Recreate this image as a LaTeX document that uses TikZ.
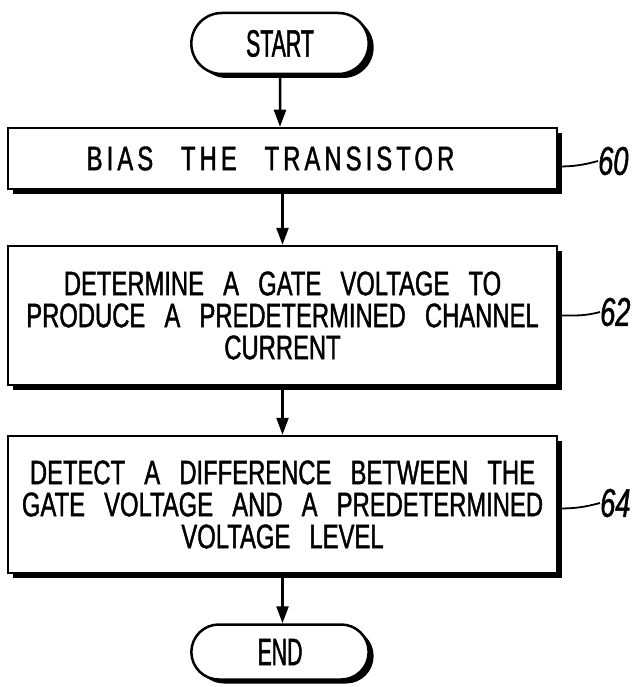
\documentclass[tikz,border=0pt]{standalone}
\usepackage{fontspec}
\setmainfont{Liberation Sans}
\newfontfamily\flowfont[FakeStretch=0.7,FakeBold=1.2,WordSpace=2.9]{Liberation Sans}
\newfontfamily\widefont[FakeStretch=0.7,FakeBold=1.2,WordSpace=2.6,LetterSpace=12]{Liberation Sans}
\newfontfamily\termfont[FakeStretch=0.56,FakeBold=1.2]{Liberation Sans}
\newfontfamily\labelfont[FakeStretch=0.68,FakeBold=1.2]{Liberation Sans}
\usetikzlibrary{arrows.meta,shapes.misc,shadows}

\tikzset{
  stepbox/.style={draw,line width=2.5pt,fill=white,minimum width=549pt,
    align=center,inner sep=0pt,font=\flowfont\fontsize{34}{32}\selectfont,
    drop shadow={shadow xshift=5pt,shadow yshift=-5pt,fill=black,opacity=1}},
  termbox/.style={rounded rectangle,draw,line width=2.5pt,fill=white,
    minimum width=184pt,font=\termfont\fontsize{38}{38}\selectfont,
    drop shadow={shadow xshift=5pt,shadow yshift=-4pt,fill=black,opacity=1}},
  flowarrow/.style={line width=2.5pt,-{Triangle[length=17pt,width=12pt]}},
  refline/.style={line width=1.8pt},
  reflabel/.style={anchor=west,inner sep=0pt,font=\labelfont\itshape\fontsize{40}{40}\selectfont}
}

\begin{document}
\begin{tikzpicture}[x=1pt,y=-1pt]

\useasboundingbox (0,0) rectangle (633,687);

%Start
\node[termbox,minimum height=61pt] (start) at (280,43.5) {START};

%Bias
\node[stepbox,minimum height=61pt] (bias) at (282.5,158.5)
  {\widefont BIAS THE TRANSISTOR\hspace*{24pt}};

%Gate voltage
\node[stepbox,minimum height=139pt] (gate) at (282.5,315.5)
  {DETERMINE A GATE VOLTAGE TO\\PRODUCE A PREDETERMINED CHANNEL\\CURRENT};

%Difference
\node[stepbox,minimum height=137pt] (detect) at (282.5,504.5)
  {DETECT A DIFFERENCE BETWEEN THE\\GATE VOLTAGE AND A PREDETERMINED\\VOLTAGE LEVEL};

%End
\node[termbox,minimum height=55pt] (end) at (280,652) {END};

%Flow arrows
\draw[flowarrow] (start) -- (start |- bias.north);
\draw[flowarrow] (bias) -- (gate);
\draw[flowarrow] (gate) -- (detect);
\draw[flowarrow] (detect) -- (detect.south |- end.north);

%Reference numerals
\node[reflabel] (n60) at (598,161) {60};
\node[reflabel] (n62) at (600,312) {62};
\node[reflabel] (n64) at (600,503) {64};

\draw[refline] ([yshift=-8pt]bias.east) to[out=0,in=195] (n60.west);
\draw[refline] (gate.east) to[out=0,in=195] (n62.west);
\draw[refline] ([yshift=-4pt]detect.east) to[out=0,in=195] (n64.west);

\end{tikzpicture}
\end{document}
